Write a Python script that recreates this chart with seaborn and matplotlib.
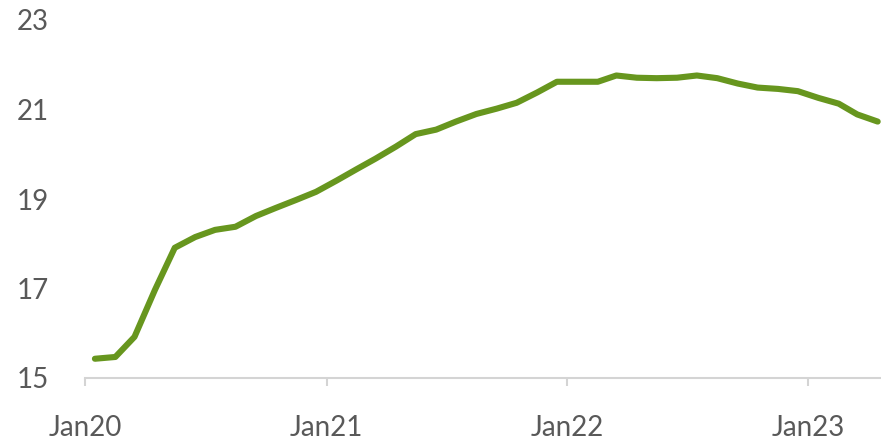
import matplotlib
matplotlib.use("Agg")
import matplotlib.pyplot as plt
import numpy as np
import pandas as pd
import seaborn as sns

# ------------------------------------------------
# Data (monthly, Jan20 - Apr23)
# ------------------------------------------------

start_month = "2020-01-01"
values = [
    15.43, 15.47, 15.92, 16.97, 17.91, 18.15, 18.31, 18.38, 18.62, 18.80,
    18.98, 19.16, 19.41, 19.67, 19.90, 20.17, 20.45, 20.55, 20.73, 20.90,
    21.02, 21.15, 21.38, 21.62, 21.62, 21.62, 21.76, 21.71, 21.70, 21.71,
    21.76, 21.70, 21.58, 21.49, 21.46, 21.41, 21.26, 21.13, 20.89, 20.73,
]
tick_dates = ["2020-01-01", "2021-01-01", "2022-01-01", "2023-01-01"]
tick_labels = ["Jan20", "Jan21", "Jan22", "Jan23"]
y_ticks = [15, 17, 19, 21, 23]

dates = pd.date_range(start_month, periods=len(values), freq="MS") + pd.Timedelta(days=15)
df = pd.DataFrame({"date": dates, "value": values})

# ------------------------------------------------
# Plot
# ------------------------------------------------

sns.set_style("white")
plt.rcParams["font.family"] = ["Lato", "DejaVu Sans"]

fig = plt.figure(figsize=(8.81, 4.45), dpi=100)
ax = fig.add_axes([85 / 881, 67 / 445, 796 / 881, 358 / 445])

sns.lineplot(data=df, x="date", y="value", ax=ax, color="#67961E", linewidth=4.4,
             solid_joinstyle="round", solid_capstyle="round")

ax.set_xlim(pd.Timestamp("2020-01-01"), pd.Timestamp("2023-04-21"))
ax.set_ylim(15, 23)
ax.set_yticks(y_ticks)
ax.set_xticks(pd.to_datetime(tick_dates))
ax.set_xticklabels(tick_labels)
ax.set_xlabel("")
ax.set_ylabel("")

for side in ["left", "right", "top"]:
    ax.spines[side].set_visible(False)
ax.spines["bottom"].set_color("#d4d4d4")
ax.spines["bottom"].set_linewidth(1.5)

ax.tick_params(axis="y", length=0, pad=26, labelsize=20, labelcolor="#595959")
ax.tick_params(axis="x", length=6, width=1.5, color="#d4d4d4", pad=21,
               labelsize=20, labelcolor="#595959", bottom=True)

fig.savefig("out.png", dpi=100)
